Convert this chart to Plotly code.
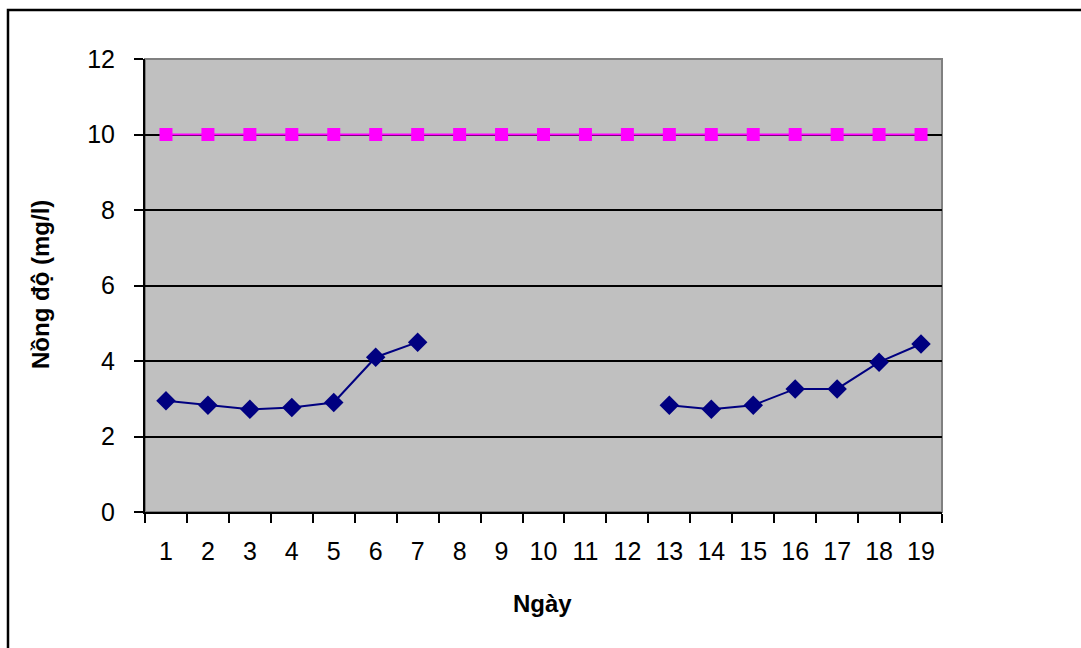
import plotly.graph_objects as go

days = [str(d) for d in range(1, 20)]
measured = [2.95, 2.83, 2.72, 2.77, 2.9, 4.1, 4.5, None, None, None, None, None,
            2.83, 2.72, 2.83, 3.26, 3.26, 3.97, 4.45]
limit = [10] * 19

fig = go.Figure()
fig.add_trace(go.Scatter(
    x=days, y=measured, mode="lines+markers", connectgaps=False,
    line=dict(color="#000080", width=2),
    marker=dict(symbol="diamond", size=15, color="#000080"),
    showlegend=False,
))
fig.add_trace(go.Scatter(
    x=days, y=limit, mode="lines+markers",
    line=dict(color="#FF00FF", width=2),
    marker=dict(symbol="square", size=13, color="#FF00FF"),
    showlegend=False,
))

# outer chart frame
fig.add_shape(type="rect", xref="paper", yref="paper",
              x0=-0.1719, x1=1.4, y0=-0.5, y1=1.108,
              line=dict(color="black", width=2.5), layer="below")
# grey top/right border of the plot area
fig.add_shape(type="rect", xref="paper", yref="paper",
              x0=0, x1=1, y0=0, y1=1,
              line=dict(color="#808080", width=2), layer="below")

fig.add_annotation(text="<b>Nồng độ (mg/l)</b>", xref="paper", yref="paper",
                   x=(40 - 145) / 797, y=(512 - 285) / 453, textangle=-90,
                   xanchor="center", yanchor="middle",
                   showarrow=False, font=dict(size=24, color="black"))
fig.add_annotation(text="<b>Ngày</b>", xref="paper", yref="paper",
                   x=(542 - 145) / 797, y=(512 - 603) / 453,
                   xanchor="center", yanchor="middle",
                   showarrow=False, font=dict(size=24, color="black"))

fig.update_layout(
    width=1081, height=648,
    margin=dict(l=145, r=139, t=59, b=136),
    paper_bgcolor="white", plot_bgcolor="#C0C0C0",
    font=dict(family="Liberation Sans, Arial", size=25, color="black"),
    xaxis=dict(
        type="category", range=[-0.5, 18.5], tickson="boundaries",
        ticks="outside", ticklen=9, tickwidth=2, tickcolor="black",
        showline=True, linecolor="black", linewidth=2,
        showgrid=False, zeroline=False, ticklabelstandoff=16,
        tickfont=dict(size=25),
    ),
    yaxis=dict(
        range=[0, 12], dtick=2, ticks="outside", ticklen=9, tickwidth=2,
        tickcolor="black", showline=True, linecolor="black", linewidth=2,
        showgrid=True, gridcolor="black", gridwidth=2, zeroline=False,
        ticklabelstandoff=14, tickfont=dict(size=25),
    ),
)

fig.write_html("out.html")
